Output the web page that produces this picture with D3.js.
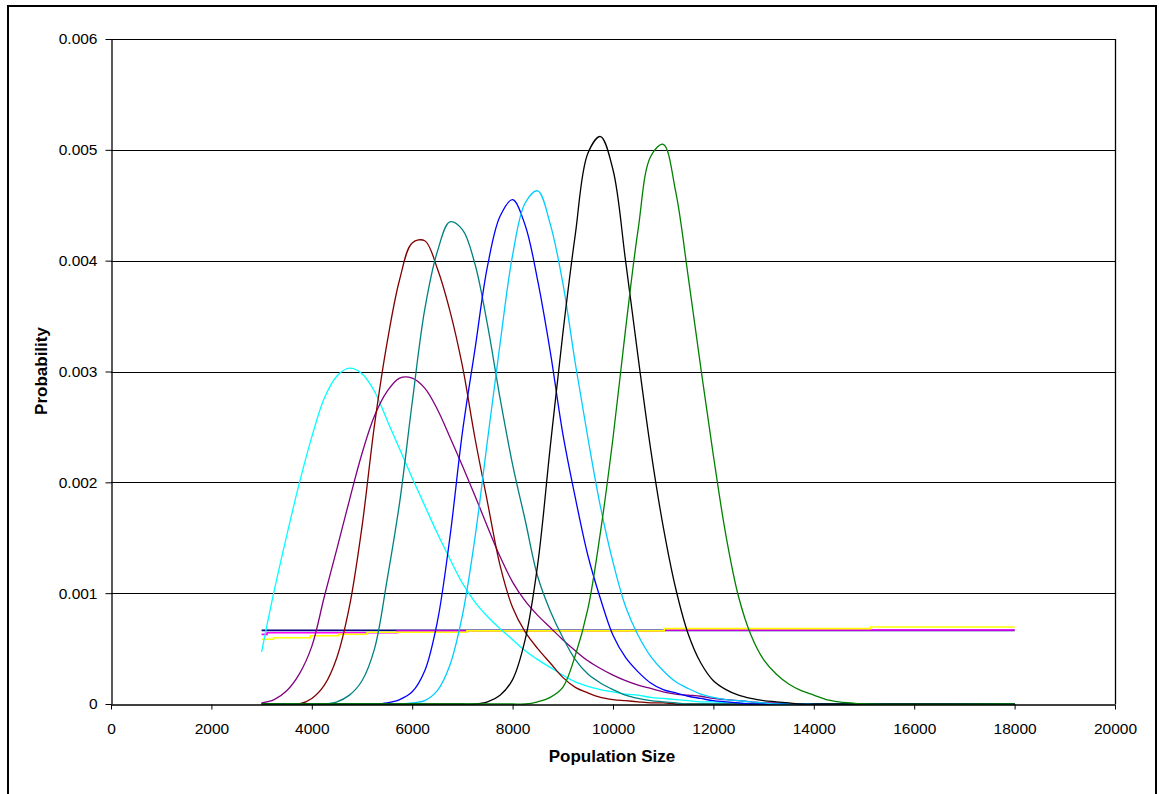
<!DOCTYPE html>
<html>
<head>
<meta charset="utf-8">
<script src="https://cdn.jsdelivr.net/npm/d3@7"></script>
<style>
  html, body { margin: 0; padding: 0; background: #fff; }
  svg { display: block; font-family: "Liberation Sans", Arial, sans-serif; }
</style>
</head>
<body>
<svg id="chart" width="1160" height="794"></svg>
<script>
// ---------- data ----------
const xGrid = [3000,3250,3500,3750,4000,4250,4500,4750,5000,5250,5500,5750,6000,6250,6500,6750,7000,7250,7500,7750,8000,8250,8500,8750,9000,9250,9500,9750,10000,10250,10500,10750,11000,11250,11500,11750,12000,12250,12500,12750,13000,13250,13500,13750,14000,14250,14500,14750,15000,18000];

const turquoise = [0.00047,0.00102,0.00152,0.00199,0.00241,0.00276,0.00296,0.00303,0.00298,0.00282,0.00256,0.00230,0.00204,0.00179,0.00154,0.00131,0.00109,0.00092,0.00079,0.00068,0.00058,0.00048,0.00040,0.00033,0.00026,0.00020,0.00016,0.00013,0.00011,0.00009,0.00008,0.00006,0.00005,0.00004,0.00003,0.00002,0.00002,0.00001,0.00001,0,0,0,0,0,0,0,0,0,0,0];
const purple = [0.00001,0.00004,0.00012,0.00027,0.00052,0.00097,0.00140,0.00184,0.00226,0.00260,0.00282,0.00294,0.00294,0.00285,0.00266,0.00241,0.00215,0.00188,0.00160,0.00133,0.00110,0.00093,0.00080,0.00069,0.00058,0.00048,0.00039,0.00032,0.00026,0.00021,0.00017,0.00014,0.00011,0.00009,0.00008,0.00007,0.00005,0.00004,0.00003,0.00002,0.00001,0.00001,0,0,0,0,0,0,0,0];
const darkRed = [0,0,0,0,0.00005,0.00017,0.00042,0.00088,0.00160,0.00252,0.00326,0.00383,0.00416,0.00418,0.00393,0.00355,0.00305,0.00240,0.00182,0.00125,0.00087,0.00065,0.00050,0.00037,0.00024,0.00015,0.00010,0.00006,0.00004,0.00003,0.00002,0.00001,0.00001,0,0,0,0,0,0,0,0,0,0,0,0,0,0,0,0,0];
const teal = [0,0,0,0,0,0,0.00002,0.00008,0.00021,0.00050,0.00112,0.00182,0.00272,0.00356,0.00408,0.00435,0.00428,0.00397,0.00342,0.00276,0.00216,0.00166,0.00115,0.00084,0.00060,0.00040,0.00027,0.00019,0.00013,0.00008,0.00005,0.00003,0.00002,0.00001,0,0,0,0,0,0,0,0,0,0,0,0,0,0,0,0];
const blue = [0,0,0,0,0,0,0,0,0,0,0.00001,0.00004,0.00011,0.00030,0.00074,0.00150,0.00245,0.00320,0.00395,0.00440,0.00455,0.00432,0.00382,0.00318,0.00244,0.00186,0.00134,0.00095,0.00062,0.00042,0.00029,0.00019,0.00013,0.00010,0.00007,0.00005,0.00003,0.00002,0.00001,0,0,0,0,0,0,0,0,0,0,0];
const skyBlue = [0,0,0,0,0,0,0,0,0,0,0,0,0.00001,0.00003,0.00012,0.00035,0.00080,0.00150,0.00238,0.00325,0.00405,0.00452,0.00463,0.00433,0.00380,0.00307,0.00240,0.00178,0.00128,0.00088,0.00062,0.00043,0.00030,0.00020,0.00014,0.00009,0.00006,0.00004,0.00003,0.00002,0.00001,0,0,0,0,0,0,0,0,0];
const blackCurve = [0,0,0,0,0,0,0,0,0,0,0,0,0,0,0,0,0,0,0.00002,0.00008,0.00022,0.00058,0.00126,0.00232,0.00334,0.00424,0.00497,0.00512,0.00482,0.00400,0.00313,0.00230,0.00160,0.00104,0.00063,0.00037,0.00021,0.00013,0.00008,0.00005,0.00003,0.00002,0.00001,0,0,0,0,0,0,0];
const green = [0,0,0,0,0,0,0,0,0,0,0,0,0,0,0,0,0,0,0,0,0,0,0.00002,0.00006,0.00015,0.00044,0.00086,0.00155,0.00240,0.00338,0.00428,0.00494,0.00505,0.00462,0.00385,0.00303,0.00224,0.00152,0.00097,0.00062,0.00040,0.00027,0.00018,0.00012,0.00008,0.00004,0.00002,0.00001,0,0];

// near-flat series (step lines)
const navyX = [3000, 18000];
const navyY = [0.000664, 0.000664];
const magentaX = [3000, 3110, 5700, 11020, 18000];
const magentaY = [0.000628, 0.000643, 0.000658, 0.000668, 0.000668];
const yellowX = [3000, 3240, 3970, 4530, 5100, 7090, 11020, 15130, 18000];
const yellowY = [0.000584, 0.000598, 0.000616, 0.000629, 0.000647, 0.000660, 0.000680, 0.000695, 0.000695];

const xTicks = [0,2000,4000,6000,8000,10000,12000,14000,16000,18000,20000];
const yTicks = [0,0.001,0.002,0.003,0.004,0.005,0.006];

// ---------- layout ----------
const svg = d3.select("#chart");
const L = 111, T = 39, R = 1115, B = 704;

// outer frame
svg.append("rect").attr("x", 8).attr("y", 6).attr("width", 1148).attr("height", 800)
  .attr("fill", "none").attr("stroke", "#000").attr("stroke-width", 2);

const x = d3.scaleLinear().domain([0, 20000]).range([L, R]);
const y = d3.scaleLinear().domain([0, 0.006]).range([B, T]);

// gridlines
svg.append("g").selectAll("line").data(yTicks.slice(1)).join("line")
  .attr("x1", L).attr("x2", R)
  .attr("y1", d => Math.round(y(d)) + 0.5).attr("y2", d => Math.round(y(d)) + 0.5)
  .attr("stroke", "#000").attr("stroke-width", 1);

// plot border (right)
svg.append("line").attr("x1", R + 0.5).attr("x2", R + 0.5).attr("y1", T).attr("y2", B)
  .attr("stroke", "#000").attr("stroke-width", 1.3);

// clip
svg.append("clipPath").attr("id", "clip").append("rect")
  .attr("x", L).attr("y", T - 2).attr("width", R - L).attr("height", B - T + 3);

const plot = svg.append("g").attr("clip-path", "url(#clip)");

const flatSeries = [
  {xs: navyX, ys: navyY, color: "#000080"},
  {xs: magentaX, ys: magentaY, color: "#FF00FF"},
  {xs: yellowX, ys: yellowY, color: "#FFFF00"}
];
const stepLine = d3.line().x(d => x(d[0])).y(d => y(d[1])).curve(d3.curveStepAfter);
flatSeries.forEach(s => {
  plot.append("path").datum(s.xs.map((v, i) => [v, s.ys[i]]))
    .attr("d", stepLine).attr("fill", "none")
    .attr("stroke", s.color).attr("stroke-width", 1.6);
});

const curves = [
  {vals: turquoise, color: "#00FFFF"},
  {vals: purple, color: "#800080"},
  {vals: darkRed, color: "#800000"},
  {vals: teal, color: "#008080"},
  {vals: blue, color: "#0000FF"},
  {vals: skyBlue, color: "#00CCFF"},
  {vals: blackCurve, color: "#000000"},
  {vals: green, color: "#008000"}
];
const line = d3.line().x(d => x(d[0])).y(d => y(d[1])).curve(d3.curveCatmullRom.alpha(0.5));
curves.forEach(s => {
  plot.append("path").datum(xGrid.map((v, i) => [v, s.vals[i]]))
    .attr("d", line).attr("fill", "none")
    .attr("stroke", s.color).attr("stroke-width", 1.3).attr("stroke-linejoin", "round");
});

// axes
const fmtY = d => d === 0 ? "0" : d3.format(".3f")(d);
const yAxis = svg.append("g").attr("transform", `translate(${L + 0.5},0)`)
  .call(d3.axisLeft(y).tickValues(yTicks).tickFormat(fmtY).tickSize(6).tickPadding(8).tickSizeOuter(0));
const xAxis = svg.append("g").attr("transform", `translate(0,${B + 0.5})`)
  .call(d3.axisBottom(x).tickValues(xTicks).tickFormat(d3.format("d")).tickSize(5).tickPadding(13).tickSizeOuter(0));

[yAxis, xAxis].forEach(g => {
  g.selectAll("path.domain").attr("stroke", "#000").attr("stroke-width", 1.3);
  g.selectAll(".tick line").attr("stroke", "#000");
  g.selectAll("text").attr("font-size", 15.5).attr("fill", "#000")
    .attr("font-family", "'Liberation Sans', Arial, sans-serif");
});

// titles
svg.append("text").attr("x", 612).attr("y", 762).attr("text-anchor", "middle")
  .attr("font-size", 17).attr("font-weight", "bold").text("Population Size");
svg.append("text").attr("transform", "translate(47,371) rotate(-90)").attr("text-anchor", "middle")
  .attr("font-size", 17).attr("font-weight", "bold").text("Probability");
</script>
</body>
</html>
